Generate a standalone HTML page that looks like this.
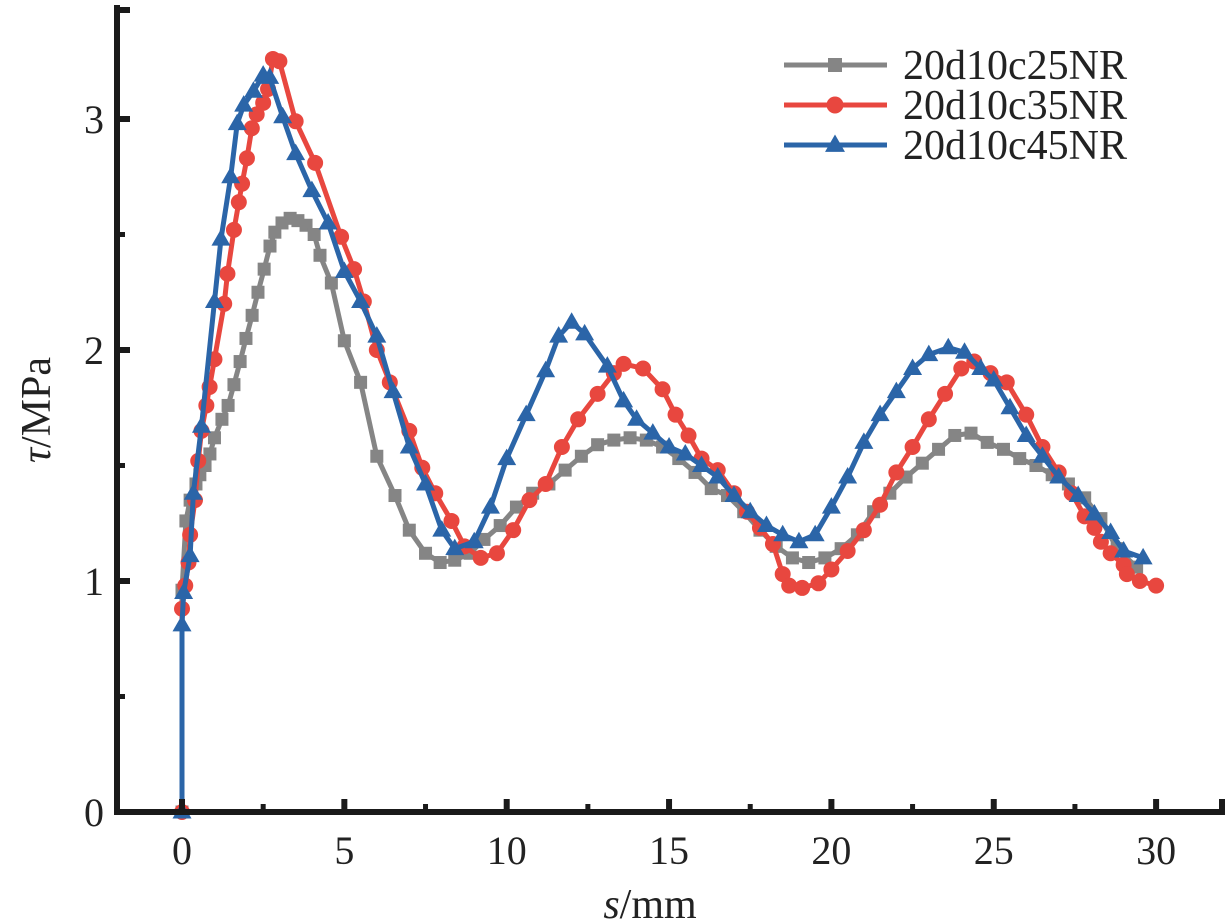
<!DOCTYPE html>
<html><head><meta charset="utf-8">
<style>
html,body{margin:0;padding:0;background:#fff;}
svg{display:block;font-family:"Liberation Serif",serif;}
</style></head>
<body>
<svg id="chart" width="1226" height="924" viewBox="0 0 1226 924" xmlns="http://www.w3.org/2000/svg">
<g id="marks"></g>
<g id="axes"></g>
<g id="legend"></g>
</svg>
<script>
const xTicks = [0,5,10,15,20,25,30];
const yTicks = [0,1,2,3];
const seriesNames = ["20d10c25NR","20d10c35NR","20d10c45NR"];
const seriesColors = ["#858585","#e8473f","#2b65a8"];
const s25 = [0,0,0.12,0.25,0.43,0.55,0.71,0.86,1.0,1.23,1.42,1.6,1.79,1.97,2.16,2.34,2.53,2.71,2.86,3.08,3.33,3.57,3.82,4.07,4.25,4.6,5.0,5.5,6.0,6.56,7.0,7.5,7.95,8.4,8.87,9.3,9.8,10.3,10.8,11.3,11.8,12.3,12.8,13.3,13.8,14.3,14.8,15.3,15.8,16.3,16.8,17.3,17.8,18.3,18.8,19.3,19.8,20.3,20.8,21.3,21.8,22.3,22.8,23.3,23.8,24.3,24.8,25.3,25.8,26.3,26.8,27.3,27.8,28.3,28.8,29.4];
const t25 = [0,0.96,1.26,1.35,1.42,1.46,1.50,1.55,1.62,1.70,1.76,1.85,1.95,2.05,2.15,2.25,2.35,2.45,2.51,2.55,2.57,2.56,2.54,2.50,2.41,2.29,2.04,1.86,1.54,1.37,1.22,1.12,1.08,1.09,1.12,1.18,1.24,1.32,1.38,1.42,1.48,1.54,1.59,1.61,1.62,1.61,1.58,1.53,1.47,1.40,1.37,1.30,1.22,1.15,1.10,1.08,1.10,1.14,1.20,1.30,1.38,1.45,1.51,1.57,1.63,1.64,1.60,1.57,1.53,1.50,1.46,1.42,1.36,1.27,1.14,1.06];
const s35 = [0,0,0.1,0.2,0.25,0.4,0.5,0.6,0.75,0.85,1.0,1.3,1.4,1.6,1.75,1.85,2.0,2.15,2.3,2.5,2.65,2.8,3.0,3.5,4.1,4.9,5.3,5.6,6.0,6.4,7.0,7.4,7.8,8.3,8.7,9.2,9.7,10.2,10.7,11.2,11.7,12.2,12.8,13.3,13.6,14.2,14.8,15.2,15.6,16.0,16.5,17.0,17.4,17.8,18.2,18.5,18.7,19.1,19.6,20.0,20.5,21.0,21.5,22.0,22.5,23.0,23.5,24.0,24.4,24.9,25.4,26.0,26.5,27.0,27.4,27.8,28.1,28.3,28.6,29.0,29.1,29.5,30.0];
const t35 = [0,0.88,0.98,1.08,1.2,1.35,1.52,1.65,1.76,1.84,1.96,2.2,2.33,2.52,2.64,2.72,2.83,2.96,3.02,3.07,3.13,3.26,3.25,2.99,2.81,2.49,2.35,2.21,2.0,1.86,1.65,1.49,1.38,1.26,1.15,1.10,1.12,1.22,1.35,1.42,1.58,1.70,1.81,1.90,1.94,1.92,1.83,1.72,1.63,1.53,1.48,1.38,1.30,1.23,1.16,1.03,0.98,0.97,0.99,1.05,1.13,1.22,1.33,1.47,1.58,1.70,1.81,1.92,1.95,1.90,1.86,1.72,1.58,1.47,1.38,1.28,1.23,1.17,1.12,1.07,1.03,1.00,0.98];
const s45 = [0,0,0.05,0.25,0.35,0.6,1.0,1.2,1.5,1.7,1.9,2.2,2.5,2.7,3.1,3.5,4.0,4.5,5.0,5.5,6.0,6.5,7.0,7.5,8.0,8.4,9.0,9.5,10.0,10.6,11.2,11.6,12.0,12.4,13.1,13.6,14.0,14.5,15.0,15.5,16.0,16.5,17.0,17.5,18.0,18.5,19.0,19.5,20.0,20.5,21.0,21.5,22.0,22.5,23.0,23.6,24.1,24.6,25.0,25.5,26.0,26.5,27.0,27.6,28.1,28.6,29.0,29.6];
const t45 = [0,0.81,0.95,1.11,1.38,1.67,2.21,2.48,2.75,2.98,3.06,3.12,3.19,3.18,3.01,2.85,2.69,2.55,2.34,2.21,2.06,1.82,1.58,1.42,1.22,1.14,1.17,1.32,1.53,1.72,1.91,2.06,2.12,2.07,1.93,1.78,1.70,1.64,1.58,1.55,1.50,1.45,1.37,1.30,1.24,1.20,1.17,1.20,1.32,1.45,1.60,1.72,1.82,1.92,1.98,2.01,1.99,1.92,1.87,1.75,1.63,1.54,1.45,1.37,1.29,1.21,1.13,1.10];

const NS="http://www.w3.org/2000/svg";
const X0=182, XPX=32.47, Y0=812, YPX=231;
function xs(v){return X0+v*XPX;}
function ys(v){return Y0-v*YPX;}
function mk(tag,parent){const e=document.createElementNS(NS,tag);parent.appendChild(e);return e;}
function marker(g,kind,cx,cy,color,sz){
  let e;
  if(kind===0){e=mk('rect',g);e.setAttribute('x',cx-sz);e.setAttribute('y',cy-sz);e.setAttribute('width',2*sz);e.setAttribute('height',2*sz);}
  else if(kind===1){e=mk('circle',g);e.setAttribute('cx',cx);e.setAttribute('cy',cy);e.setAttribute('r',sz+1.5);}
  else {e=mk('polygon',g);const r=sz+3.5;e.setAttribute('points',`${cx},${cy-r} ${cx-r*0.95},${cy+r*0.65} ${cx+r*0.95},${cy+r*0.65}`);}
  e.setAttribute('fill',color);
  return e;
}
const marks=document.getElementById('marks');
const data=[[s25,t25],[s35,t35],[s45,t45]];
data.forEach((d,i)=>{
  const g=mk('g',marks);
  
  
  const pl=mk('polyline',g);
  
  
  pl.setAttribute('points',d[0].map((s,k)=>xs(s)+','+ys(d[1][k])).join(' '));
  pl.setAttribute('fill','none');pl.setAttribute('stroke',seriesColors[i]);pl.setAttribute('stroke-width','5');pl.setAttribute('stroke-linejoin','round');
  d[0].forEach((s,k)=>{
    const m=marker(g,i,xs(s),ys(d[1][k]),seriesColors[i],6.5);
    
    
  });
});
const axes=document.getElementById('axes');
function line(x1,y1,x2,y2,w,name){const l=mk('line',axes);l.setAttribute('x1',x1);l.setAttribute('y1',y1);l.setAttribute('x2',x2);l.setAttribute('y2',y2);l.setAttribute('stroke','#1a1a1a');l.setAttribute('stroke-width',w);

return l;}
function text(x,y,str,anchor,size,name){const t=mk('text',axes);t.setAttribute('x',x);t.setAttribute('y',y);t.setAttribute('text-anchor',anchor);t.setAttribute('font-size',size);t.setAttribute('fill','#222');t.textContent=str;

return t;}
line(117,5,117,815,6,'y-axis-line');
line(114,812,1225,812,6,'x-axis-line');
xTicks.forEach(v=>{line(xs(v),812,xs(v),799,6,'x-major-tick');text(xs(v),864,String(v),'middle',40,'x-tick-label');});
xTicks.slice(0,-1).forEach(v=>{line(xs(v+2.5),812,xs(v+2.5),804,5,'x-minor-tick');});
line(1222,812,1222,799,6,'x-major-tick');
yTicks.forEach(v=>{line(117,ys(v),130,ys(v),6,'y-major-tick');text(104,ys(v)+14,String(v),'end',40,'y-tick-label');});
[0.5,1.5,2.5].forEach(v=>line(117,ys(v),125,ys(v),5,'y-minor-tick'));
line(117,10,130,10,6,'y-major-tick');
const xt=text(650,918,'','middle',42,'x-axis-title');
xt.innerHTML='<tspan font-style="italic">s</tspan>/mm';
const yt=text(0,0,'','middle',42,'y-axis-title');
yt.setAttribute('transform','translate(50,410) rotate(-90)');
yt.innerHTML='<tspan font-style="italic">τ</tspan>/MPa';
const lg=document.getElementById('legend');
seriesNames.forEach((n,i)=>{
  const y=65+i*40;
  const g=mk('g',lg);
  
  
  const l=mk('line',g);l.setAttribute('x1',784);l.setAttribute('x2',887);l.setAttribute('y1',y);l.setAttribute('y2',y);l.setAttribute('stroke',seriesColors[i]);l.setAttribute('stroke-width',5);
  marker(g,i,835,y,seriesColors[i],7);
  const t=mk('text',g);t.setAttribute('x',903);t.setAttribute('y',y+14);t.setAttribute('font-size',42);t.setAttribute('fill','#222');t.textContent=n;
});
</script>
</body></html>
